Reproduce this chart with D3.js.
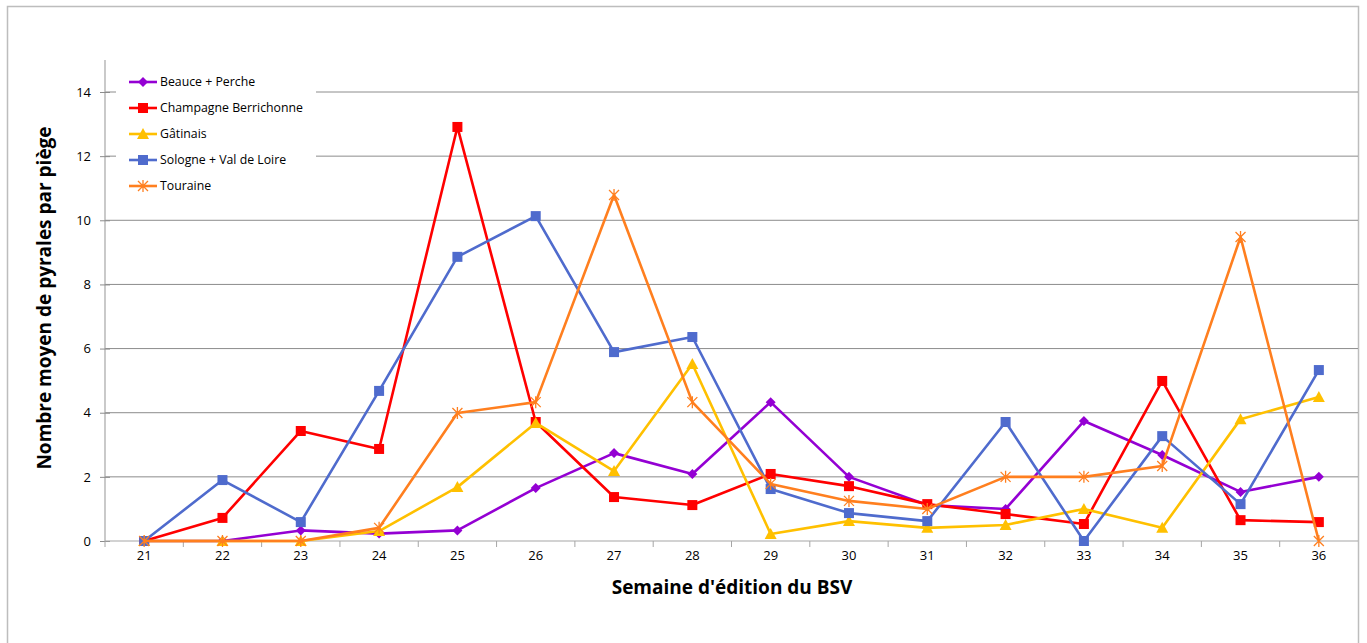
<!DOCTYPE html>
<html><head><meta charset="utf-8">
<script src="https://cdn.jsdelivr.net/npm/d3@7"></script>
<style>body{margin:0;background:#fff}svg{display:block}</style>
</head><body>
<script>
const weeks = ["21","22","23","24","25","26","27","28","29","30","31","32","33","34","35","36"];
const beauce = [0,0,0.33,0.23,0.33,1.65,2.74,2.09,4.33,2.0,1.12,1.0,3.74,2.68,1.53,2.0];
const champagne = [0,0.72,3.43,2.87,12.91,3.71,1.37,1.12,2.09,1.71,1.15,0.84,0.53,4.99,0.65,0.59];
const gatinais = [0,0,0,0.31,1.68,3.68,2.18,5.52,0.22,0.62,0.41,0.5,1.0,0.41,3.8,4.49];
const sologne = [0,1.9,0.59,4.68,8.86,10.13,5.89,6.36,1.62,0.87,0.62,3.71,0,3.27,1.15,5.33];
const touraine = [0,0,0,0.41,3.99,4.33,10.79,4.33,1.78,1.25,1.0,2.0,2.0,2.34,9.48,0];
const yTicks = [0,2,4,6,8,10,12,14];
const seriesNames = ["Beauce + Perche","Champagne Berrichonne","Gâtinais","Sologne + Val de Loire","Touraine"];
const seriesColors = ["#9400D3","#FF0000","#FFC000","#4F6BCD","#FF7F1F"];
const seriesMarkers = ["diamond","square","triangle","square","star"];
const seriesData = [beauce, champagne, gatinais, sologne, touraine];

const W = 1367, H = 643;
const svg = d3.select("body").append("svg").attr("width", W).attr("height", H);
const font = "Open Sans, sans-serif";

// outer border
svg.append("rect").attr("x",7.5).attr("y",6.5).attr("width",1351).attr("height",H)
  .attr("fill","#fff").attr("stroke","#bdbdbd").attr("stroke-width",1.5);

const L = 105, R = 1358, T = 60, B = 541;
const x = d3.scaleBand().domain(weeks).range([L, R]);
const y = d3.scaleLinear().domain([0, 14]).range([B, B - 449]);

// gridlines
svg.append("g").selectAll("line").data(yTicks.filter(d => d > 0)).join("line")
  .attr("x1", L).attr("x2", R).attr("y1", d => y(d)).attr("y2", d => y(d))
  .attr("stroke", "#8c8c8c").attr("stroke-width", 1);

// y axis
const yAxis = svg.append("g").attr("transform", `translate(${L},0)`)
  .call(d3.axisLeft(y).tickValues(yTicks).tickSize(5).tickPadding(6));
yAxis.select(".domain").attr("stroke", "#a6a6a6").attr("stroke-width",1.2).attr("d", `M0,${T}V${B}`);
yAxis.selectAll(".tick line").attr("stroke", "#8c8c8c").attr("x2", -5).attr("x1", 5);
yAxis.selectAll(".tick text").attr("font-family", font).attr("font-size", 13).attr("fill", "#000").attr("x", -14);

// x axis
const xAxis = svg.append("g").attr("transform", `translate(0,${B})`)
  .call(d3.axisBottom(x).tickSize(0).tickPadding(10));
xAxis.select(".domain").attr("stroke", "#a6a6a6").attr("stroke-width",1.2).attr("d", `M${L},0H${R}`);
xAxis.selectAll(".tick text").attr("font-family", font).attr("font-size", 13).attr("fill", "#000");
svg.append("g").selectAll("line").data(weeks).join("line")
  .attr("x1", d => x(d)).attr("x2", d => x(d)).attr("y1", B).attr("y2", B + 6)
  .attr("stroke", "#a6a6a6").attr("stroke-width", 1);

// titles
svg.append("text").attr("x", 732).attr("y", 594).attr("text-anchor", "middle")
  .attr("font-family", font).attr("font-weight", "bold").attr("font-size", 19).text("Semaine d'édition du BSV");
svg.append("text").attr("transform", "translate(51,298) rotate(-90)").attr("text-anchor", "middle")
  .attr("font-family", font).attr("font-weight", "bold").attr("font-size", 19).text("Nombre moyen de pyrales par piège");

function drawMarker(g, type, color, cx, cy) {
  if (type === "diamond") {
    g.append("path").attr("d", `M${cx},${cy-5}L${cx+5},${cy}L${cx},${cy+5}L${cx-5},${cy}Z`).attr("fill", color);
  } else if (type === "square") {
    g.append("rect").attr("x", cx-5).attr("y", cy-5).attr("width", 10).attr("height", 10).attr("fill", color);
  } else if (type === "triangle") {
    g.append("path").attr("d", `M${cx},${cy-6}L${cx+6},${cy+5}L${cx-6},${cy+5}Z`).attr("fill", color);
  } else if (type === "star") {
    const s = 5;
    g.append("path").attr("d", `M${cx-s},${cy-s}L${cx+s},${cy+s}M${cx-s},${cy+s}L${cx+s},${cy-s}M${cx},${cy-s-1}L${cx},${cy+s+1}`)
      .attr("stroke", color).attr("stroke-width", 1.3).attr("fill", "none");
  }
}

const line = d3.line().x((d, i) => x(weeks[i]) + x.bandwidth()/2).y(d => y(d));
seriesData.forEach((data, k) => {
  const g = svg.append("g");
  g.append("path").attr("d", line(data)).attr("fill", "none")
    .attr("stroke", seriesColors[k]).attr("stroke-width", 2.6).attr("stroke-linejoin", "round");
  data.forEach((v, i) => drawMarker(g, seriesMarkers[k], seriesColors[k], x(weeks[i]) + x.bandwidth()/2, y(v)));
});

// legend
const lg = svg.append("g");
lg.append("rect").attr("x", 116).attr("y", 66).attr("width", 200).attr("height", 132).attr("fill", "#fff");
seriesNames.forEach((n, k) => {
  const cy = 82 + k * 26;
  lg.append("line").attr("x1", 129).attr("x2", 157).attr("y1", cy).attr("y2", cy)
    .attr("stroke", seriesColors[k]).attr("stroke-width", 2.6);
  drawMarker(lg, seriesMarkers[k], seriesColors[k], 143, cy);
  lg.append("text").attr("x", 160).attr("y", cy + 4).attr("font-family", font).attr("font-size", 12.3).text(n);
});
</script>
</body></html>
